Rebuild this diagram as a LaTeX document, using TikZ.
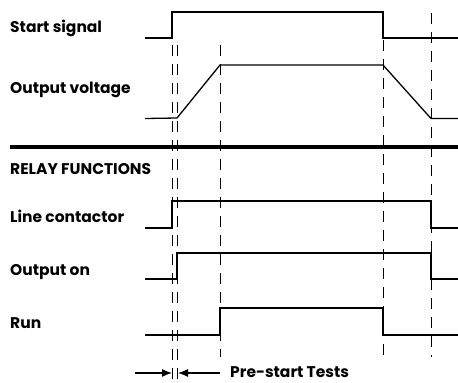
\documentclass[tikz,border=0pt]{standalone}
\usepackage{fontspec}
\setsansfont{Poppins}
\usetikzlibrary{arrows.meta, positioning}

\begin{document}
\begin{tikzpicture}[x=1pt, y=-1pt,
    lbl/.style={anchor=base west, inner sep=0pt, font=\sffamily\bfseries\fontsize{15.5}{17}\selectfont},
    signal/.style={line width=1.3pt},
    guide/.style={line width=0.8pt, dash pattern=on 11pt off 8pt},
    tip/.style={line width=1.2pt, -{Latex[length=10pt, width=8pt]}}]
  \useasboundingbox (0,0) rectangle (458,383);
  % Labels
  \node[lbl] (start) at (10,32) {Start signal};
  \node[lbl] (volt) at (10,93) {Output voltage};
  \node[lbl] (relay) at (10,174) {RELAY FUNCTIONS};
  \node[lbl] (line) at (10,222) {Line contactor};
  \node[lbl] (outon) at (10,275) {Output on};
  \node[lbl] (run) at (10,328) {Run};
  \node[lbl] (tests) at (230,377) {Pre-start Tests};
  % Time marks
  \draw[guide] (172,45) -- (172,383);
  \draw[guide] (177,45) -- (177,383);
  \draw[guide] (220,45) -- (220,357);
  \draw[guide] (383,40) -- (383,357);
  \draw[guide] (431,13) -- (431,357);
  % Traces
  \draw[signal] (145,38) -- (172,38) -- (172,12) -- (383,12) -- (383,38) -- (458,38);
  \draw[signal] (145,118.5) -- (177,118) -- (220,65) -- (383,65) -- (431,118.5) -- (458,118.5);
  \draw[line width=3.5pt] (10,147) -- (458,147);
  \draw[signal] (145,228) -- (172,228) -- (172,201) -- (431,201) -- (431,228) -- (458,228);
  \draw[signal] (145,279) -- (177,279) -- (177,253) -- (431,253) -- (431,279) -- (458,279);
  \draw[signal] (145,335) -- (220,335) -- (220,308) -- (383,308) -- (383,335) -- (458,335);
  % Pre-start interval
  \coordinate (pre-in) at (135,373);
  \coordinate (pre-out) at (220,373);
  \draw[tip] (pre-in) -- (172,373);
  \draw[tip] (pre-out) -- (178,373);
\end{tikzpicture}
\end{document}
